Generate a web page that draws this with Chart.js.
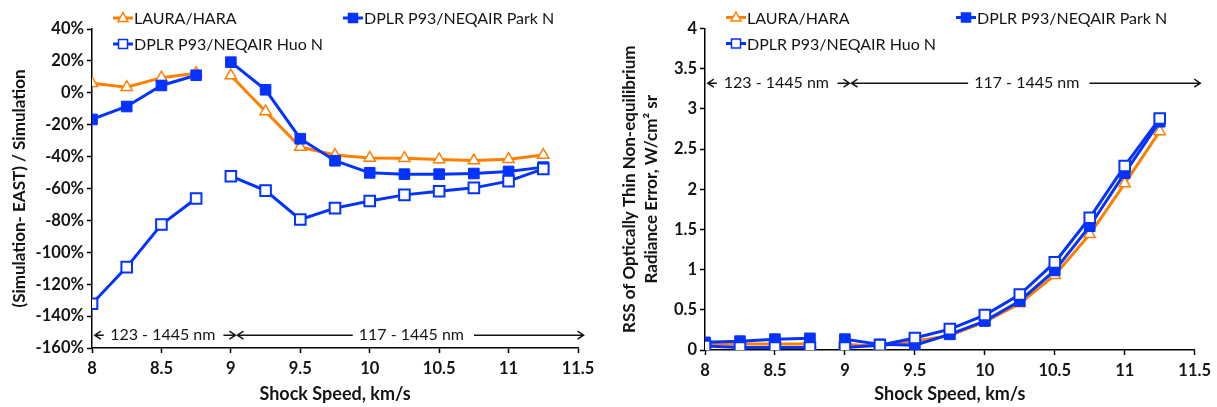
<!DOCTYPE html>
<html>
<head>
<meta charset="utf-8">
<script src="https://cdn.jsdelivr.net/npm/chart.js@4.4.1/dist/chart.umd.min.js"></script>
<style>
  html, body { margin: 0; padding: 0; background: #fff; }
  #wrap { position: relative; width: 1217px; height: 407px; }
  #left { position: absolute; left: 0; top: 0; }
  #right { position: absolute; left: 608px; top: 0; }
</style>
</head>
<body>
<div id="wrap">
  <canvas id="left" width="608" height="407"></canvas>
  <canvas id="right" width="609" height="407"></canvas>
</div>
<script>
// shock speeds, km/s
const speeds = [8, 8.25, 8.5, 8.75, 9, 9.25, 9.5, 9.75, 10, 10.25, 10.5, 10.75, 11, 11.25];
const gapAfter = 8.75; // the two wavelength ranges are not joined
const seriesNames = ['LAURA/HARA', 'DPLR P93/NEQAIR Park N', 'DPLR P93/NEQAIR Huo N'];

// left: (Simulation - EAST) / Simulation, %
const diffLaura = [6, 3.5, 9.5, 12.3, 10.8, -11.7, -34, -39, -40.8, -41, -41.8, -42.5, -41.6, -39];
const diffPark = [-16.7, -8.6, 4.6, 11, 19.2, 1.9, -28.8, -42.6, -50.2, -51, -51, -50.6, -49.3, -46.6];
const diffHuo = [-132.3, -109.3, -82.6, -66.3, -52.3, -61.3, -79.4, -72.3, -67.8, -64, -61.7, -59.6, -55.4, -47.7];

// right: RSS of optically thin radiance error, W/cm2 sr
const rssLaura = [0.07, 0.075, 0.075, 0.075, 0.07, 0.05, 0.11, 0.18, 0.35, 0.58, 0.93, 1.44, 2.07, 2.72];
const rssPark = [0.095, 0.11, 0.135, 0.145, 0.135, 0.07, 0.06, 0.195, 0.36, 0.61, 0.99, 1.54, 2.2, 2.84];
const rssHuo = [0.05, 0.03, 0.03, 0.03, 0.03, 0.06, 0.15, 0.26, 0.435, 0.69, 1.09, 1.645, 2.29, 2.88];

// wavelength range notes
const rangeLabels = ['123 - 1445 nm', '117 - 1445 nm'];
const rangeEdges = [8.02, 9.04, 11.54];
const rangeLabelAt = [8.51, 10.3];

const ORANGE = '#FF8000';
const BLUE = '#0433FF';
const INK = '#141414';

function points(vals) {
  const pts = [];
  speeds.forEach((s, i) => {
    pts.push({ x: s, y: vals[i] });
    if (s === gapAfter) pts.push({ x: s + 0.125, y: null });
  });
  return pts;
}

function makeDatasets(laura, park, huo) {
  return [
    { label: seriesNames[0], data: points(laura), borderColor: ORANGE, borderWidth: 3,
      pointStyle: 'triangle', pointRadius: 6.5, pointBackgroundColor: '#fff',
      pointBorderColor: ORANGE, pointBorderWidth: 1.5, order: 3 },
    { label: seriesNames[1], data: points(park), borderColor: BLUE, borderWidth: 3,
      pointStyle: 'rect', pointRadius: 7.5, pointBackgroundColor: BLUE,
      pointBorderColor: BLUE, pointBorderWidth: 1, order: 2 },
    { label: seriesNames[2], data: points(huo), borderColor: BLUE, borderWidth: 3,
      pointStyle: 'rect', pointRadius: 7.5, pointBackgroundColor: '#fff',
      pointBorderColor: BLUE, pointBorderWidth: 2, order: 1 }
  ];
}

function marker(ctx, ds, x, y) {
  ctx.save();
  ctx.fillStyle = ds.pointBackgroundColor;
  ctx.strokeStyle = ds.pointBorderColor;
  ctx.lineWidth = 1.5;
  ctx.beginPath();
  if (ds.pointStyle === 'triangle') {
    ctx.moveTo(x, y - 5.5);
    ctx.lineTo(x + 5, y + 3.5);
    ctx.lineTo(x - 5, y + 3.5);
    ctx.closePath();
  } else {
    ctx.rect(x - 4.5, y - 4.5, 9, 9);
  }
  ctx.fill();
  ctx.stroke();
  ctx.restore();
}

// legend in two columns over the top of the plot
const cornerLegend = {
  id: 'cornerLegend',
  afterDraw(chart) {
    const ctx = chart.ctx, a = chart.chartArea;
    const slots = [[21, -11], [251, -11], [21, 15]];
    chart.data.datasets.forEach((ds, i) => {
      const x = a.left + slots[i][0], y = a.top + slots[i][1];
      ctx.save();
      ctx.strokeStyle = ds.borderColor;
      ctx.lineWidth = 3;
      ctx.beginPath();
      ctx.moveTo(x, y);
      ctx.lineTo(x + 20, y);
      ctx.stroke();
      ctx.restore();
      marker(ctx, ds, x + 10, y);
      ctx.save();
      ctx.fillStyle = INK;
      ctx.font = '16px Lato';
      ctx.textBaseline = 'middle';
      ctx.fillText(ds.label, x + 21, y + 1);
      ctx.restore();
    });
  }
};

function arrow(ctx, from, to, y) {
  const dir = to > from ? 1 : -1;
  ctx.beginPath();
  ctx.moveTo(from, y);
  ctx.lineTo(to, y);
  ctx.moveTo(to - dir * 6, y - 4);
  ctx.lineTo(to, y);
  ctx.lineTo(to - dir * 6, y + 4);
  ctx.stroke();
}

// "123 - 1445 nm" / "117 - 1445 nm" span arrows
const rangeNotes = {
  id: 'rangeNotes',
  afterDraw(chart, args, opts) {
    const ctx = chart.ctx, xs = chart.scales.x;
    const y = chart.scales.y.getPixelForValue(opts.at);
    const e0 = xs.getPixelForValue(rangeEdges[0]);
    const e1 = xs.getPixelForValue(rangeEdges[1]);
    const e2 = xs.getPixelForValue(rangeEdges[2]);
    ctx.save();
    ctx.strokeStyle = INK;
    ctx.fillStyle = INK;
    ctx.lineWidth = 1.5;
    ctx.font = '16px Lato';
    ctx.textAlign = 'center';
    ctx.textBaseline = 'middle';
    const c1 = xs.getPixelForValue(rangeLabelAt[0]);
    ctx.fillText(rangeLabels[0], c1, y);
    arrow(ctx, e0 + 9, e0, y);
    arrow(ctx, e1 - 13, e1 - 1, y);
    const c2 = xs.getPixelForValue(rangeLabelAt[1]);
    const w2 = ctx.measureText(rangeLabels[1]).width;
    ctx.fillText(rangeLabels[1], c2, y);
    arrow(ctx, c2 - w2 / 2 - 6, e1 + 1, y);
    arrow(ctx, c2 + w2 / 2 + 10, e2, y);
    ctx.restore();
  }
};

function axisStyle() {
  return {
    grid: { display: true, drawOnChartArea: false, drawTicks: true, tickLength: 5,
            tickColor: '#000', tickWidth: 1.5 },
    border: { display: true, color: '#000', width: 1.5 }
  };
}

function makeChart(id, datasets, o) {
  return new Chart(document.getElementById(id), {
    type: 'line',
    data: { datasets: datasets },
    options: {
      responsive: false,
      animation: false,
      spanGaps: false,
      layout: { padding: { top: o.top, right: o.right, left: 0, bottom: 0 } },
      plugins: {
        legend: { display: false },
        tooltip: { enabled: false },
        rangeNotes: { at: o.noteAt }
      },
      scales: {
        x: Object.assign(axisStyle(), {
          type: 'linear', min: 8, max: 11.5,
          ticks: { stepSize: 0.5, color: INK, padding: 6, callback: v => String(v),
                   font: { family: 'Lato', size: 16.5, weight: 'bold' } },
          title: { display: true, text: 'Shock Speed, km/s', color: INK, padding: { top: 0, bottom: 2 },
                   font: { family: 'Lato', size: 18, weight: 'bold' } },
          afterFit(scale) { scale.height = 407 - o.bottom; }
        }),
        y: Object.assign(axisStyle(), {
          type: 'linear', min: o.yMin, max: o.yMax,
          ticks: { stepSize: o.yStep, color: INK, padding: 3, callback: o.fmt,
                   font: { family: 'Lato', size: 16.5, weight: 'bold' } },
          title: { display: true, text: o.yTitle, color: INK, padding: { top: o.titlePad, bottom: 0 },
                   font: { family: 'Lato', size: 17, weight: 'bold', lineHeight: 1.3 } },
          afterFit(scale) { scale.width = o.left; }
        })
      }
    },
    plugins: [cornerLegend, rangeNotes]
  });
}

makeChart('left', makeDatasets(diffLaura, diffPark, diffHuo), {
  top: 29, right: 30, left: 92, bottom: 348,
  yMin: -160, yMax: 40, yStep: 20, noteAt: -152, titlePad: 8,
  fmt: v => v + '%',
  yTitle: '(Simulation- EAST) / Simulation'
});

makeChart('right', makeDatasets(rssLaura, rssPark, rssHuo), {
  top: 28.5, right: 20, left: 97, bottom: 350,
  yMin: 0, yMax: 4, yStep: 0.5, noteAt: 3.32, titlePad: 10,
  fmt: v => String(v),
  yTitle: ['RSS of Optically Thin Non-equilibrium', 'Radiance Error, W/cm\u00B2 sr']
});
</script>
</body>
</html>
